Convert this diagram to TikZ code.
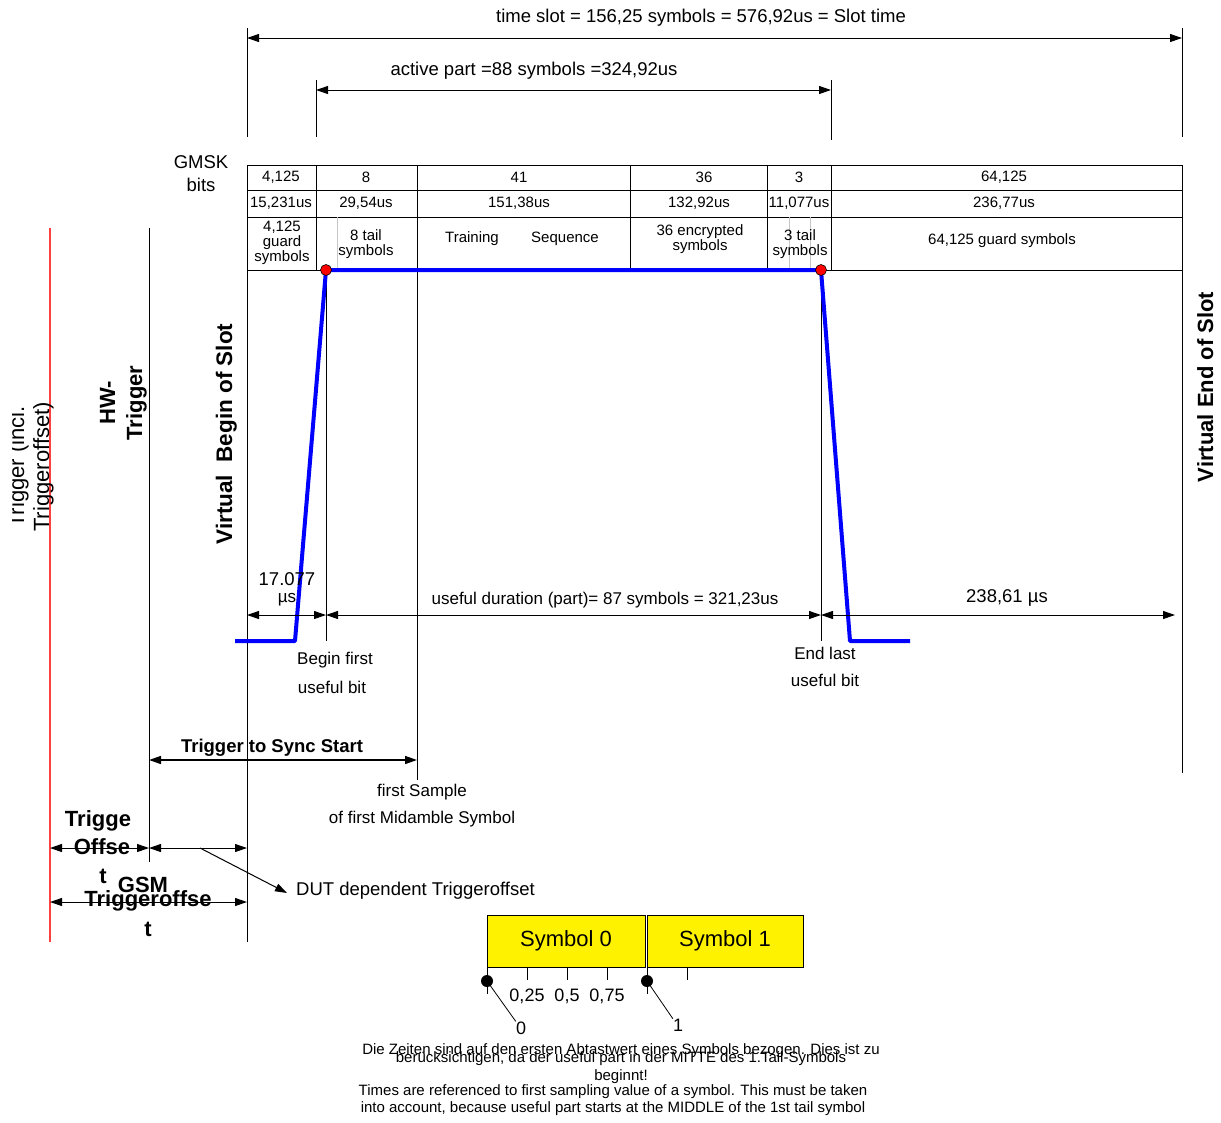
\documentclass[tikz,border=0pt]{standalone}
\usepackage{fontspec}
\setmainfont{Liberation Sans}
\usetikzlibrary{arrows.meta, positioning}

\newcommand{\fsz}[1]{\fontsize{#1}{#1}\selectfont}

\begin{document}
\begin{tikzpicture}[x=1pt, y=-1pt,
    guide/.style={line width=1pt},
    dimarrow/.style={{Triangle[length=12pt,width=8pt]}-{Triangle[length=12pt,width=8pt]}},
    tiparrow/.style={-{Triangle[length=12pt,width=8pt]}},
    lbl/.style={font=\fsz{18.5}, inner sep=0pt},
    small/.style={font=\fsz{17}, inner sep=0pt},
    cell/.style={font=\fontsize{15}{15}\selectfont, inner sep=0pt, align=center},
    boldlbl/.style={font=\fsz{22}\bfseries, inner sep=0pt},
    sidelbl/.style={rotate=90, anchor=base, inner sep=0pt},
    symbox/.style={draw, fill=yellow, line width=1pt, minimum height=52pt, inner sep=0pt, font=\fsz{22}},
    note/.style={font=\fsz{15}, inner sep=0pt}]
    \useasboundingbox (0,0) rectangle (1221,1122);
    % Slot and active part
    \draw[guide] (247,28) -- (247,137);
    \draw[guide] (1182,28) -- (1182,137);
    \draw[guide] (316,80) -- (316,137);
    \draw[guide] (831,80) -- (831,140);
    \coordinate (slotL) at (247,38);
    \coordinate (slotR) at (1182,38);
    \draw[guide, dimarrow] (slotL) -- (slotR);
    \node[lbl] (slotlbl) at (701,18) {time slot = 156,25 symbols = 576,92us = Slot time};
    \coordinate (actL) at (316,90);
    \coordinate (actR) at (831,90);
    \draw[guide, dimarrow] (actL) -- (actR);
    \node[lbl] (actlbl) at (534,71) {active part =88 symbols =324,92us};
    % Table
    \node[lbl] (gmsk) at (201,162) {GMSK};
    \node[lbl] (gbits) at (201,185) {bits};
    \draw[guide] (247,165) rectangle (1182,270);
    \draw[guide] (247,190) -- (1182,190);
    \draw[guide] (247,217) -- (1182,217);
    \foreach \x in {316,417,630,767,831}
        \draw[guide] (\x,165) -- (\x,270);
    \foreach \x in {337,789,810}
        \draw[line width=1pt, gray!45] (\x,217) -- (\x,270);
    \foreach \x/\txt [count=\i] in {281/{4,125}, 366/8, 519/41, 704/36, 799/3, 1004/{64,125}}
        \node[cell] (bits\i) at (\x,177) {\txt};
    \foreach \x/\txt [count=\i] in {281/{15,231us}, 366/{29,54us}, 519/{151,38us}, 699/{132,92us}, 799/{11,077us}, 1004/{236,77us}}
        \node[cell] (dur\i) at (\x,203) {\txt};
    \node[cell] (guard1) at (282,243) {4,125\\guard\\symbols};
    \node[cell] (tail1) at (366,244) {8 tail\\symbols};
    \node[cell] (train) at (472,239) {Training};
    \node[cell] (seq) at (565,239) {Sequence};
    \node[cell] (crypt) at (700,239) {36 encrypted\\symbols};
    \node[cell] (tail2) at (800,244) {3 tail\\symbols};
    \node[cell] (guard2) at (1002,241) {64,125 guard symbols};
    % Time lines
    \draw[guide] (247,270) -- (247,942);
    \draw[guide] (1182,270) -- (1182,773);
    \draw[guide] (417,270) -- (417,780);
    \draw[guide] (326,270) -- (326,641);
    \draw[guide] (821,270) -- (821,641);
    \draw[guide] (149,228) -- (149,862);
    \draw[line width=1.5pt, red!75] (50,228) -- (50,942);
    % Burst
    \coordinate (ub1) at (326,270);
    \coordinate (ub2) at (821,270);
    \draw[line width=4pt, blue, line join=round] (235,641) -- (295,641) -- (ub1) -- (ub2) -- (850,641) -- (910,641);
    \filldraw[fill=red, draw=black, line width=0.6pt] (ub1) circle (5.5pt);
    \filldraw[fill=red, draw=black, line width=0.6pt] (ub2) circle (5.5pt);
    % Useful part
    \coordinate (d0) at (247,615);
    \coordinate (d1) at (326,615);
    \coordinate (d2) at (821,615);
    \coordinate (d3) at (1175,615);
    \draw[guide, dimarrow] (d0) -- (d1);
    \draw[guide, dimarrow] (d1) -- (d2);
    \draw[guide, dimarrow] (d2) -- (d3);
    \node[lbl] (rise) at (287,579) {17.077};
    \node[small] (riseus) at (287,600) {µs};
    \node[small] (useful) at (605,600) {useful duration (part)= 87 symbols = 321,23us};
    \node[lbl] (guardt) at (1007,598) {238,61 µs};
    \node[small] (begin1) at (335,660) {Begin first};
    \node[small] (begin2) at (332,687) {useful bit};
    \node[small] (end1) at (825,653) {End last};
    \node[small] (end2) at (825,680) {useful bit};
    % Trigger
    \coordinate (hw) at (149,760);
    \coordinate (mid) at (417,760);
    \draw[line width=1.5pt, dimarrow] (hw) -- (mid);
    \node[lbl, font=\fsz{18.5}\bfseries] (sync) at (272,748) {Trigger to Sync Start};
    \node[small] (samp1) at (422,792) {first Sample};
    \node[small] (samp2) at (422,819) {of first Midamble Symbol};
    \coordinate (to0) at (50,848);
    \coordinate (to1) at (149,848);
    \coordinate (to2) at (247,848);
    \coordinate (gsm0) at (50,902);
    \coordinate (gsm2) at (247,902);
    \draw[guide, dimarrow] (to0) -- (to1);
    \draw[guide, dimarrow] (to1) -- (to2);
    \draw[guide, dimarrow] (gsm0) -- (gsm2);
    \coordinate (dutA) at (200,848);
    \coordinate (dutB) at (287,893);
    \draw[guide, tiparrow] (dutA) -- (dutB);
    \node[lbl, anchor=west] (dut) at (296,891) {DUT dependent Triggeroffset};
    \node[boldlbl] (toff1) at (98,821) {Trigge};
    \node[boldlbl] (toff2) at (102,847) {Offse};
    \node[boldlbl] (toff3) at (103,876) {t};
    \node[boldlbl] (gsm1) at (143,885) {GSM};
    \node[boldlbl] (gsm2l) at (148,901) {Triggeroffse};
    \node[boldlbl] (gsm3) at (148,929) {t};
    % Side labels
    \begin{scope}
        \clip (12,380) rectangle (70,560);
        \node[sidelbl, font=\fsz{22}] (trg1) at (24,467) {Trigger (incl.};
    \end{scope}
    \node[sidelbl, font=\fsz{22}] (trg2) at (49,467) {Triggeroffset)};
    \node[sidelbl, font=\fsz{22}\bfseries] (hw1) at (115,403) {HW-};
    \node[sidelbl, font=\fsz{22}\bfseries] (hw2) at (142,403) {Trigger};
    \node[sidelbl, font=\fsz{22.5}\bfseries] (vbegin) at (232,434) {Virtual\ \ Begin of Slot};
    \node[sidelbl, font=\fsz{22}\bfseries] (vend) at (1213,387) {Virtual End of Slot};
    % Symbols
    \node[symbox, minimum width=158pt] (sym0) at (566,941) {Symbol 0};
    \node[symbox, minimum width=156pt] (sym1) at (725,941) {Symbol 1};
    \foreach \x in {527,567,607,687}
        \draw[guide] (\x,967) -- (\x,980);
    \draw[guide] (487,967) -- (487,994);
    \draw[guide] (647,967) -- (647,994);
    \coordinate (s0) at (487,981);
    \coordinate (s1) at (647,981);
    \fill (s0) circle (6pt);
    \fill (s1) circle (6pt);
    \node[lbl, font=\fsz{18}] (q1) at (527,996) {0,25};
    \node[lbl, font=\fsz{18}] (q2) at (567,996) {0,5};
    \node[lbl, font=\fsz{18}] (q3) at (607,996) {0,75};
    \node[lbl, font=\fsz{18}] (n0) at (521,1028) {0};
    \node[lbl, font=\fsz{18}] (n1) at (678,1025) {1};
    \draw[line width=0.8pt] (s0) -- (n0.north west);
    \draw[line width=0.8pt] (s1) -- (n1.north west);
    % Notes
    \node[note] (de1) at (621,1051) {Die Zeiten sind auf den ersten Abtastwert eines Symbols bezogen. Dies ist zu};
    \node[note] (de2) at (621,1059) {berücksichtigen, da der useful part in der MITTE des 1.Tail-Symbols};
    \node[note] (de3) at (621,1077) {beginnt!};
    \node[note] (en1) at (613,1092) {Times are referenced to first sampling value of a symbol. This must be taken};
    \node[note] (en2) at (613,1109) {into account, because useful part starts at the MIDDLE of the 1st tail symbol};
\end{tikzpicture}
\end{document}
